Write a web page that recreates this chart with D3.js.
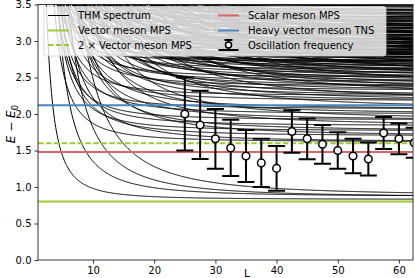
<!DOCTYPE html>
<html>
<head>
<meta charset="utf-8">
<script src="https://cdnjs.cloudflare.com/ajax/libs/d3/7.8.5/d3.min.js"></script>
<style>
body { margin: 0; background: #fff; }
svg { font-family: "DejaVu Sans", sans-serif; }
</style>
</head>
<body>
<script>
// THM levels: each threshold (large-L energy) with the 1/L^2 strengths of its levels
const thmThresholds = [0.83, 0.87, 0.86, 0.88, 1.62, 1.70, 1.77, 1.84, 1.92, 2.00, 2.07,
    2.18, 2.25, 2.32, 2.38, 2.44, 2.50, 2.55, 2.60, 2.65, 2.70, 2.75, 2.80, 2.85, 2.90,
    2.95, 3.00, 3.05, 3.10, 3.15, 3.20, 3.25, 3.30, 3.35, 3.40, 3.45,
    2.73, 2.78, 2.83, 2.88, 2.93, 2.98, 3.03, 3.08, 3.13, 3.18, 3.23, 3.28, 3.33, 3.38, 3.43, 3.48];
const thmStrengths = [
    [15], [48], [95], [160], [25, 60], [40, 110], [30, 90], [35, 150], [28, 80, 200],
    [40, 120], [30, 70, 250],
    [45, 100, 180, 320], [30, 90, 150, 400], [60, 120, 220, 350], [40, 80, 160, 280, 500],
    [50, 110, 200, 300], [35, 75, 140, 240, 380, 600], [60, 100, 180, 260, 420],
    [45, 90, 130, 210, 330, 520], [55, 95, 150, 230, 350, 700], [40, 70, 120, 190, 280, 450],
    [60, 100, 160, 240, 380, 600], [50, 85, 140, 200, 300, 480, 800], [45, 75, 120, 180, 260, 400],
    [55, 90, 140, 220, 330, 520], [40, 70, 110, 170, 250, 380, 650], [50, 80, 130, 200, 300, 450],
    [60, 95, 150, 230, 350], [45, 75, 120, 180, 280, 420], [55, 85, 140, 210, 320],
    [40, 70, 110, 170, 260], [50, 80, 130, 200], [45, 75, 120, 190], [55, 90, 150],
    [40, 70, 110], [50, 85],
    [15, 30], [20, 35], [15, 30], [20, 35], [15, 30], [20, 35], [12, 25], [18, 32],
    [12, 25], [18, 32], [12, 25], [18, 32], [12, 25], [18, 32], [12, 25], [18, 32]
];

// mesons
const vectorMPS = 0.80;
const scalarMPS = 1.48;
const heavyTNS = 2.12;

// oscillation frequency
const oscL = [25, 27.5, 30, 32.5, 35, 37.5, 40, 42.5, 45, 47.5, 50, 52.5, 55, 57.5, 60, 62.5];
const oscE = [2.00, 1.85, 1.66, 1.535, 1.425, 1.33, 1.255, 1.76, 1.66, 1.585, 1.50, 1.425, 1.383, 1.74, 1.66, 1.605];
const oscErr = [0.50, 0.468, 0.41, 0.385, 0.355, 0.33, 0.305, 0.29, 0.28, 0.265, 0.25, 0.235, 0.227, 0.22, 0.21, 0.205];

const xTicks = [10, 20, 30, 40, 50, 60];
const yTicks = [0, 0.5, 1, 1.5, 2, 2.5, 3, 3.5];

const margin = { top: 4.5, right: 2, bottom: 18, left: 38 },
    width = 415 - margin.left - margin.right,
    height = 278 - margin.top - margin.bottom;

const green = "#9acd32", red = "#d9676a", blue = "#4a84bd";

const svg = d3.select("body").append("svg")
    .attr("width", 415)
    .attr("height", 278);

const g = svg.append("g")
    .attr("transform", "translate(" + margin.left + "," + margin.top + ")");

const x = d3.scaleLinear().domain([1, 62.3]).range([0, width]);
const y = d3.scaleLinear().domain([0, 3.5]).range([height, 0]);

g.append("clipPath").attr("id", "plot")
    .append("rect").attr("width", width).attr("height", height);

const plot = g.append("g").attr("clip-path", "url(#plot)");

const Ls = d3.range(1, 63.05, 0.1);
const line = d3.line()
    .x(d => x(d[0]))
    .y(d => y(Math.min(d[1], 4)));

thmThresholds.forEach(function(a, i) {
    thmStrengths[i].forEach(function(c) {
        plot.append("path")
            .datum(Ls.map(L => [L, a + c / (L * L)]))
            .attr("fill", "none")
            .attr("stroke", "#000")
            .attr("stroke-width", 1)
            .attr("d", line);
    });
});

function hline(v, color, dash) {
    plot.append("line")
        .attr("x1", 0).attr("x2", width)
        .attr("y1", y(v)).attr("y2", y(v))
        .attr("stroke", color)
        .attr("stroke-width", 2)
        .attr("stroke-dasharray", dash);
}
hline(vectorMPS, green, null);
hline(2 * vectorMPS, green, "5.5,2.4");
hline(scalarMPS, red, null);
hline(heavyTNS, blue, null);

// error bars
const bars = plot.selectAll(".osc")
    .data(oscL.map((L, i) => ({ L: L, E: oscE[i], err: oscErr[i] })))
    .enter().append("g")
    .attr("class", "osc");
bars.append("line")
    .attr("x1", d => x(d.L)).attr("x2", d => x(d.L))
    .attr("y1", d => y(d.E - d.err)).attr("y2", d => y(d.E + d.err))
    .attr("stroke", "#000").attr("stroke-width", 2);
[-1, 1].forEach(function(s) {
    bars.append("line")
        .attr("x1", d => x(d.L) - 8.5).attr("x2", d => x(d.L) + 8.5)
        .attr("y1", d => y(d.E + s * d.err)).attr("y2", d => y(d.E + s * d.err))
        .attr("stroke", "#000").attr("stroke-width", 2);
});
bars.append("circle")
    .attr("cx", d => x(d.L)).attr("cy", d => y(d.E))
    .attr("r", 3.8)
    .attr("fill", "#fff").attr("stroke", "#000").attr("stroke-width", 1.5);

// axes
const xAxis = d3.axisBottom(x).tickValues(xTicks).tickSize(3.5).tickPadding(3);
const yAxis = d3.axisLeft(y).tickValues(yTicks).tickSize(3.5).tickPadding(3)
    .tickFormat(d3.format(".1f"));

g.append("g")
    .attr("transform", "translate(0," + height + ")")
    .call(xAxis);
g.append("g").call(yAxis);
g.selectAll(".tick text").attr("font-size", 10).attr("fill", "#000")
    .attr("font-family", "DejaVu Sans");
g.selectAll(".domain").remove();
g.selectAll(".tick line").attr("stroke", "#000").attr("stroke-width", 0.8);

g.append("rect")
    .attr("width", width).attr("height", height)
    .attr("fill", "none").attr("stroke", "#222").attr("stroke-width", 0.9);

g.append("text")
    .attr("x", 209).attr("y", height + 17)
    .attr("font-size", 10.5)
    .attr("text-anchor", "middle")
    .text("L");

const yl = svg.append("text")
    .attr("transform", "translate(15," + 124 + ") rotate(-90)")
    .attr("text-anchor", "middle")
    .attr("font-size", 12);
yl.append("tspan").attr("font-style", "italic").text("E");
yl.append("tspan").text(" − ");
yl.append("tspan").attr("font-style", "italic").text("E");
yl.append("tspan").attr("font-size", 8.5).attr("dy", 3).text("0");

// legend
const leg = svg.append("g");
leg.append("rect")
    .attr("x", 44).attr("y", 6.5).attr("width", 342).attr("height", 49.5)
    .attr("rx", 2.5)
    .attr("fill", "#fff").attr("fill-opacity", 0.8)
    .attr("stroke", "#ccc").attr("stroke-opacity", 0.8);

const legItems = [
    { col: 0, row: 0, color: "#000", w: 1, dash: null, label: "THM spectrum" },
    { col: 0, row: 1, color: green, w: 2, dash: null, label: "Vector meson MPS" },
    { col: 0, row: 2, color: green, w: 2, dash: "5.5,2.4", label: "2 × Vector meson MPS" },
    { col: 1, row: 0, color: red, w: 2, dash: null, label: "Scalar meson MPS" },
    { col: 1, row: 1, color: blue, w: 2, dash: null, label: "Heavy vector meson TNS" }
];
const colX = [48, 218], rowY = [15.5, 30.5, 45];
legItems.forEach(function(it) {
    leg.append("line")
        .attr("x1", colX[it.col]).attr("x2", colX[it.col] + 21)
        .attr("y1", rowY[it.row]).attr("y2", rowY[it.row])
        .attr("stroke", it.color).attr("stroke-width", it.w)
        .attr("stroke-dasharray", it.dash);
    leg.append("text")
        .attr("x", colX[it.col] + 30).attr("y", rowY[it.row] + 3.6)
        .attr("font-size", 10)
        .text(it.label);
});
const ex = colX[1] + 10.5, ey = rowY[2];
leg.append("line").attr("x1", ex).attr("x2", ex).attr("y1", ey - 5).attr("y2", ey + 5)
    .attr("stroke", "#000").attr("stroke-width", 2);
leg.append("line").attr("x1", ex - 4).attr("x2", ex + 4).attr("y1", ey - 5).attr("y2", ey - 5)
    .attr("stroke", "#000").attr("stroke-width", 2);
leg.append("line").attr("x1", ex - 10).attr("x2", ex + 10).attr("y1", ey + 5).attr("y2", ey + 5)
    .attr("stroke", "#000").attr("stroke-width", 2);
leg.append("circle").attr("cx", ex).attr("cy", ey).attr("r", 3)
    .attr("fill", "#fff").attr("stroke", "#000").attr("stroke-width", 1.5);
leg.append("text")
    .attr("x", colX[1] + 30).attr("y", ey + 3.6)
    .attr("font-size", 10)
    .text("Oscillation frequency");
</script>
</body>
</html>
